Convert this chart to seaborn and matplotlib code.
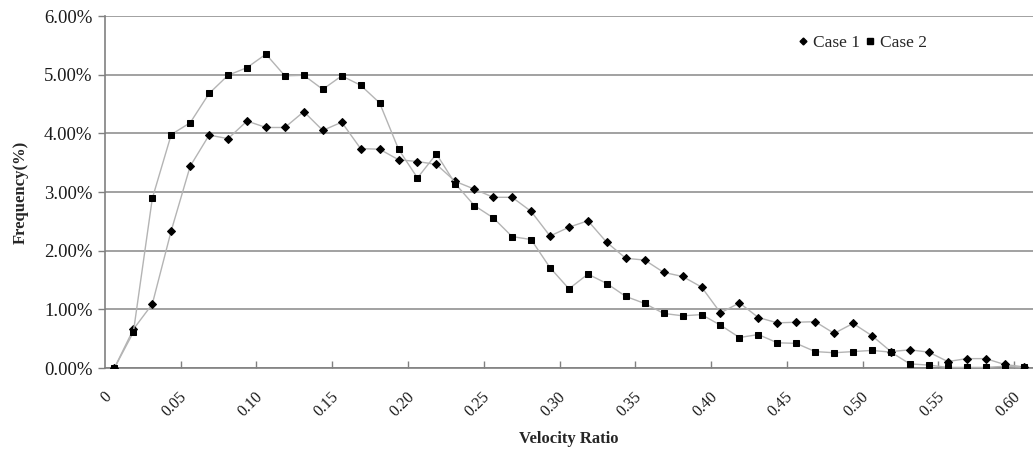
import numpy as np
import pandas as pd
import matplotlib
matplotlib.use("Agg")
import matplotlib.pyplot as plt
from matplotlib.lines import Line2D
from matplotlib.ticker import FuncFormatter, FixedLocator
import seaborn as sns

# ---- data ----
velocity_ratio = [round(0.0125 * i, 4) for i in range(49)]
case1 = [0.00, 0.66, 1.09, 2.34, 3.44, 3.97, 3.91, 4.21, 4.10, 4.10,
         4.37, 4.05, 4.19, 3.74, 3.73, 3.55, 3.52, 3.47, 3.18, 3.05,
         2.91, 2.91, 2.67, 2.25, 2.40, 2.51, 2.14, 1.87, 1.84, 1.63,
         1.56, 1.38, 0.94, 1.11, 0.86, 0.77, 0.78, 0.79, 0.59, 0.76,
         0.55, 0.28, 0.31, 0.27, 0.11, 0.16, 0.16, 0.06, 0.02]
case2 = [0.00, 0.61, 2.89, 3.98, 4.18, 4.68, 4.99, 5.12, 5.35, 4.98,
         4.99, 4.75, 4.98, 4.82, 4.52, 3.73, 3.24, 3.65, 3.14, 2.77,
         2.56, 2.24, 2.19, 1.71, 1.35, 1.60, 1.44, 1.22, 1.10, 0.93,
         0.89, 0.91, 0.73, 0.52, 0.57, 0.43, 0.42, 0.28, 0.26, 0.28,
         0.30, 0.27, 0.07, 0.05, 0.01, 0.01, 0.01, 0.03, 0.01]
series_names = ["Case 1", "Case 2"]
x_tick_labels = ["0", "0.05", "0.10", "0.15", "0.20", "0.25", "0.30",
                 "0.35", "0.40", "0.45", "0.50", "0.55", "0.60"]
y_ticks = [0, 1, 2, 3, 4, 5, 6]

df1 = pd.DataFrame({"x": velocity_ratio, "y": case1})
df2 = pd.DataFrame({"x": velocity_ratio, "y": case2})

sns.set_theme(style="white")
plt.rcParams["font.family"] = ["Liberation Serif", "DejaVu Serif"]

fig = plt.figure(figsize=(10.33, 4.5), dpi=100)
ax = fig.add_axes([0.1016, 0.1822, 0.8984, 0.7822])

line_col = "#b4b4b4"
sns.lineplot(data=df1, x="x", y="y", ax=ax, color=line_col, lw=1.0,
             marker="D", markersize=4.2, markerfacecolor="black",
             markeredgecolor="black", zorder=3)
sns.lineplot(data=df2, x="x", y="y", ax=ax, color=line_col, lw=1.0,
             marker="s", markersize=5, markerfacecolor="black",
             markeredgecolor="black", zorder=3)

step = 0.0125
ax.set_xlim(-step / 2, 0.6 + step / 2)
ax.set_ylim(0, 6)

# y axis
ax.set_yticks(y_ticks)
ax.yaxis.set_major_formatter(FuncFormatter(lambda v, p: f"{v:.2f}%"))
ax.yaxis.grid(True, color="#9a9a9a", lw=1.3)
ax.tick_params(axis="y", which="major", left=True, direction="out",
               length=5, width=1, color="#808080", labelsize=13.5, pad=4,
               labelcolor="#1a1a1a")

# x axis: labels at category centers, tick marks at category boundaries
label_pos = [0.05 * i for i in range(len(x_tick_labels))]
ax.set_xticks(label_pos)
ax.set_xticklabels(x_tick_labels, rotation=45, ha="right", va="top",
                   rotation_mode="default")
ax.tick_params(axis="x", which="major", length=0, labelsize=11.5, pad=15,
               labelcolor="#1a1a1a")
ax.xaxis.set_minor_locator(FixedLocator([p - step / 2 for p in label_pos[1:]]))
ax.tick_params(axis="x", which="minor", bottom=True, direction="in",
               length=5, width=1, color="#808080")

for s in ["top", "right"]:
    ax.spines[s].set_visible(False)
for s in ["left", "bottom"]:
    ax.spines[s].set_color("#808080")
    ax.spines[s].set_linewidth(1.2)

ax.set_xlabel("Velocity Ratio", fontsize=12, fontweight="bold", labelpad=8)
ax.set_ylabel("Frequency(%)", fontsize=12, fontweight="bold", labelpad=11)

handles = [
    Line2D([], [], ls="none", marker="D", markersize=3.5, color="black"),
    Line2D([], [], ls="none", marker="s", markersize=4.2, color="black"),
]
ax.legend(handles, series_names, ncol=2, frameon=False, fontsize=12.5,
          loc="upper left", bbox_to_anchor=(0.7305, 0.99),
          handlelength=0.5, handletextpad=0.35, columnspacing=0.3)

fig.savefig("out.png", dpi=100)
